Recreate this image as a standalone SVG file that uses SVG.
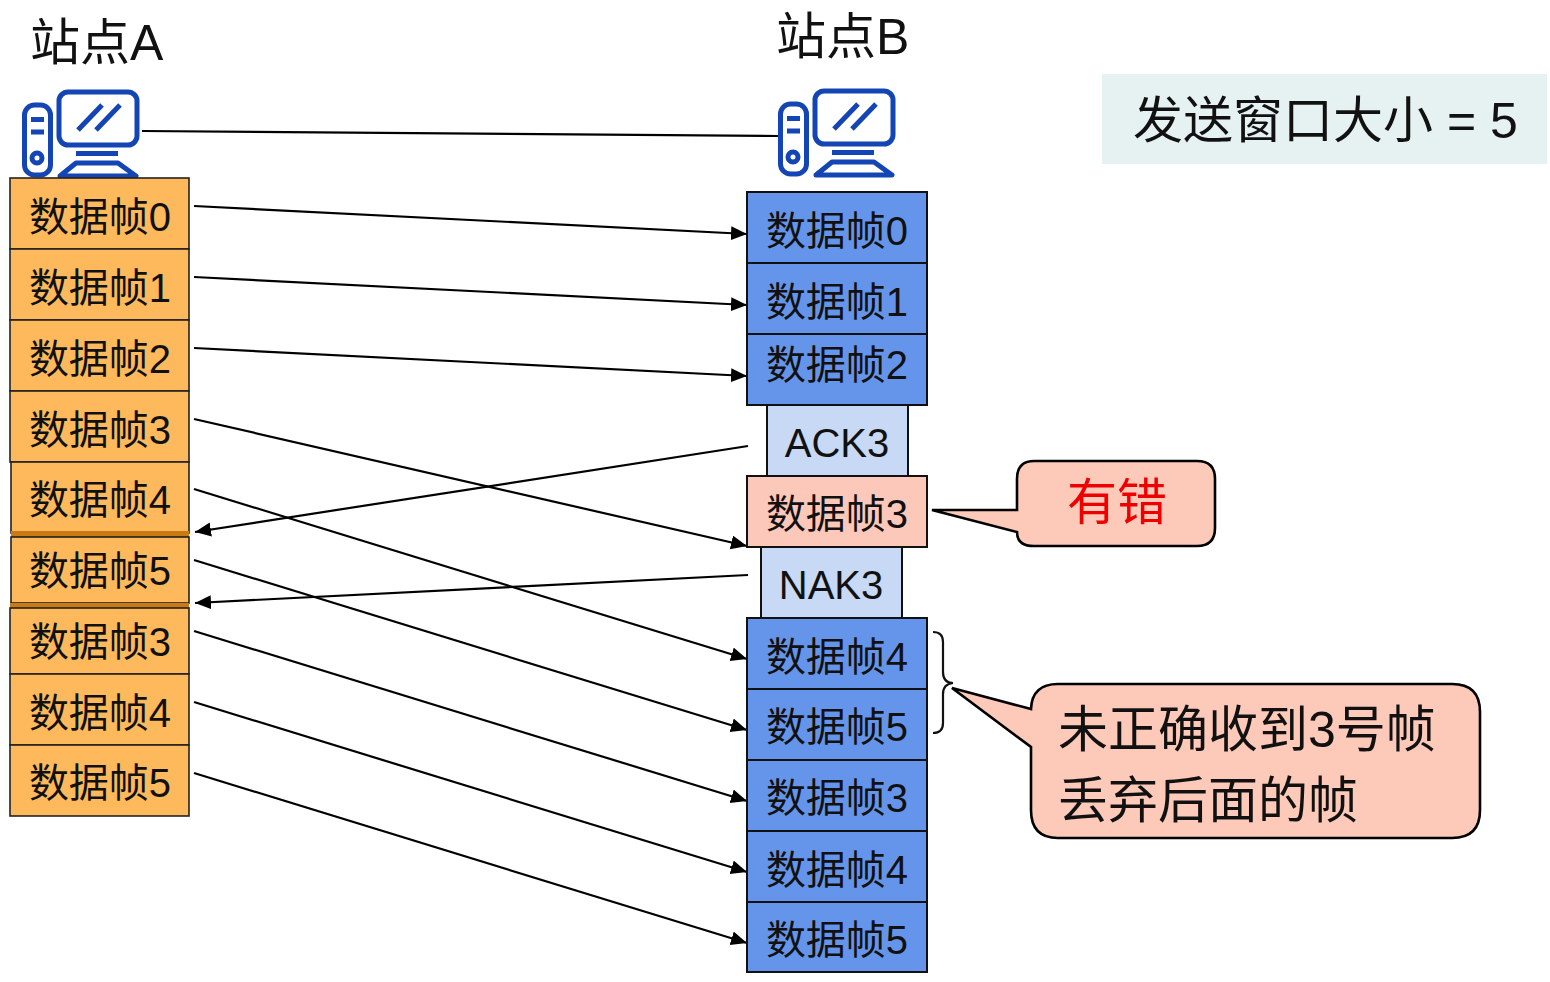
<svg xmlns="http://www.w3.org/2000/svg" width="1550" height="982" viewBox="0 0 1550 982">
<style>
text{font-family:"Liberation Sans","Noto Sans CJK SC",sans-serif;fill:#111}
.f{font-size:40px;text-anchor:middle}
.t{font-size:50px}
.a{fill:#fdb95c;stroke:#222;stroke-width:1.6}
.b{fill:#6595ea;stroke:#111;stroke-width:2}
.l{fill:#c8d9f6;stroke:#111;stroke-width:2}
.r{fill:#fcc8b9;stroke:#111;stroke-width:2}
.c{stroke:#000;stroke-width:2.2;fill:none}
.ar{marker-end:url(#h)}
.call{fill:#fdcaba;stroke:#000;stroke-width:2.600}
.i{fill:none;stroke:#1346b4;stroke-width:5;stroke-linejoin:round;stroke-linecap:butt}
</style>
<defs>
<marker id="h" markerUnits="userSpaceOnUse" markerWidth="17" markerHeight="15" refX="16" refY="7" orient="auto"><path d="M0 0L16 7L0 14Z" fill="#000"/></marker>
<g id="pc">
<rect x="24.500" y="105" width="26" height="70" rx="10" class="i"/>
<path d="M31 119.500H44M31 132H44" class="i"/>
<circle cx="37" cy="158" r="5" class="i"/>
<rect x="59" y="92" width="78" height="53" rx="9" class="i"/>
<path d="M78 130L102 105M96 130L120 105" class="i"/>
<path d="M76 153.500H118" class="i"/>
<path d="M60 176L76 163H118L136 176Z" class="i"/>
</g>
</defs>
<g id="connectors">
<path class="c" d="M142 131L779 136"/>
<path class="c ar" d="M194 206L747 234"/>
<path class="c ar" d="M194 277L747 305"/>
<path class="c ar" d="M194 348L747 376"/>
<path class="c ar" d="M194 419L747 546"/>
<path class="c ar" d="M194 489L747 659"/>
<path class="c ar" d="M194 560L747 730"/>
<path class="c ar" d="M194 631L747 801"/>
<path class="c ar" d="M194 702L747 872"/>
<path class="c ar" d="M194 773L747 943"/>
<path class="c ar" d="M748 446L195 532"/>
<path class="c ar" d="M748 575L195 603"/>
</g>
<g id="station-a">
<text class="t" x="30" y="60">站点A</text>
<use href="#pc"/>
</g>
<g id="station-b">
<text class="t" x="776" y="54">站点B</text>
<use href="#pc" x="756" y="-1"/>
</g>
<g id="window-size">
<rect x="1102" y="74" width="445" height="90" fill="#e5f2f1"/>
<text class="t" x="1133" y="138">发送窗口大小 = 5</text>
</g>
<g id="a0"><rect class="a" x="10" y="178" width="179" height="71"/><text class="f" x="100" y="231">数据帧0</text></g>
<g id="a1"><rect class="a" x="10" y="249" width="179" height="71"/><text class="f" x="100" y="302">数据帧1</text></g>
<g id="a2"><rect class="a" x="10" y="320" width="179" height="71"/><text class="f" x="100" y="373">数据帧2</text></g>
<g id="a3"><rect class="a" x="10" y="391" width="179" height="71"/><text class="f" x="100" y="444">数据帧3</text></g>
<g id="a4"><rect class="a" x="11" y="462" width="178" height="71"/><text class="f" x="100" y="514">数据帧4</text></g>
<g id="a5"><rect x="11" y="531" width="178" height="8" fill="#c97a12"/><rect class="a" x="11" y="537" width="178" height="66"/><text class="f" x="100" y="585">数据帧5</text></g>
<g id="a6"><rect x="10" y="603" width="179" height="6" fill="#c97a12"/><rect class="a" x="10" y="608" width="179" height="66"/><text class="f" x="100" y="656">数据帧3</text></g>
<g id="a7"><rect class="a" x="10" y="674" width="179" height="71"/><text class="f" x="100" y="727">数据帧4</text></g>
<g id="a8"><rect class="a" x="10" y="745" width="179" height="71"/><text class="f" x="100" y="797">数据帧5</text></g>
<g id="b0"><rect class="b" x="747" y="192" width="180" height="71"/><text class="f" x="837" y="245">数据帧0</text></g>
<g id="b1"><rect class="b" x="747" y="263" width="180" height="71"/><text class="f" x="837" y="316">数据帧1</text></g>
<g id="b2"><rect class="b" x="747" y="334" width="180" height="71"/><text class="f" x="837" y="379">数据帧2</text></g>
<g id="ack3"><rect class="l" x="767" y="405" width="141" height="71"/><text class="f" x="837" y="457">ACK3</text></g>
<g id="b3err"><rect class="r" x="747" y="476" width="180" height="71"/><text class="f" x="837" y="528">数据帧3</text></g>
<g id="nak3"><rect class="l" x="761" y="547" width="141" height="71"/><text class="f" x="831" y="599">NAK3</text></g>
<g id="b4"><rect class="b" x="747" y="618" width="180" height="71"/><text class="f" x="837" y="671">数据帧4</text></g>
<g id="b5"><rect class="b" x="747" y="689" width="180" height="71"/><text class="f" x="837" y="741">数据帧5</text></g>
<g id="b6"><rect class="b" x="747" y="760" width="180" height="71"/><text class="f" x="837" y="812">数据帧3</text></g>
<g id="b7"><rect class="b" x="747" y="831" width="180" height="71"/><text class="f" x="837" y="884">数据帧4</text></g>
<g id="b8"><rect class="b" x="747" y="902" width="180" height="70"/><text class="f" x="837" y="954">数据帧5</text></g>
<g id="brace"><path d="M933 632Q943 632 943 642V672Q943 683 953 683Q943 684 943 694V723Q943 733 933 733" fill="none" stroke="#111" stroke-width="2.200"/></g>
<g id="callout-error">
<path class="call" d="M1034 461H1197Q1215 461 1215 479V528Q1215 546 1197 546H1034Q1017 546 1017 532L932 510H1017V479Q1017 461 1034 461Z"/>
<text class="t" x="1067" y="520" style="fill:#ee0000">有错</text>
</g>
<g id="callout-discard">
<path class="call" d="M1058 684H1452Q1480 684 1480 712V810Q1480 838 1452 838H1058Q1031 838 1031 810V747L952 688L1031 709Q1032 684 1058 684Z"/>
<text class="t" x="1058" y="747">未正确收到3号帧</text>
<text class="t" x="1058" y="818">丢弃后面的帧</text>
</g>
</svg>
